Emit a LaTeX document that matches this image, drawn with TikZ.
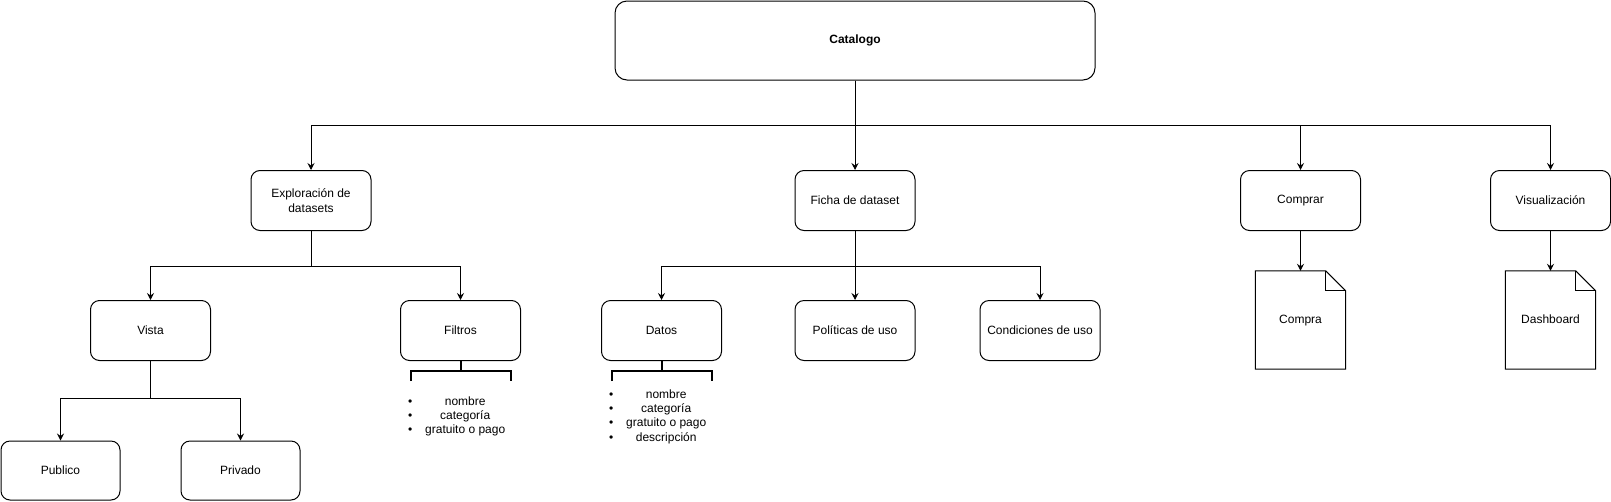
\documentclass[tikz,border=0pt]{standalone}
\usepackage{fontspec}
\setmainfont{Liberation Sans}
\usetikzlibrary{arrows.meta}
\tikzset{
  base/.style={font=\fontsize{12}{14.4}\selectfont},
  box/.style={base, draw, line width=1pt, rounded corners=9pt, minimum width=120pt, minimum height=60pt, align=center, inner sep=2pt},
  arr/.style={line width=1pt, -{Stealth[length=7pt,width=7pt,inset=2.5pt]}},
  docnode/.style={base, minimum width=90pt, minimum height=98pt, inner sep=0pt, text height=8.6pt, text depth=2.5pt},
  docline/.style={line width=1pt, line join=miter},
  brk/.style={line width=2pt},
  li/.style={base, anchor=base west, inner sep=0pt},
}
\newcommand{\litem}[1]{\hbox to 114pt{\rlap{\textbullet}\hfil #1\hfil}}
\begin{document}
\begin{tikzpicture}[x=1pt, y=-1pt]
\useasboundingbox (0,0) rectangle (1611,501);
\fill[white] (0,0) rectangle (1611,501);

% top
\node[box, rounded corners=12pt, minimum width=480pt, minimum height=79pt, font=\fontsize{12}{14.4}\selectfont\bfseries] (cat) at (855,40.5) {Catalogo};

% level 2
\node[box] (expl) at (311,200.5) {Exploración de\\datasets};
\node[box] (ficha) at (855,200.5) {Ficha de dataset};
\node[box] (comp) at (1300.5,200.5) {Comprar};
\node[box] (vis) at (1550.5,200.5) {Visualización};

% level 3
\node[box] (vista) at (150.5,330.5) {Vista};
\node[box] (filt) at (460.5,330.5) {Filtros};
\node[box] (datos) at (661.5,330.5) {Datos};
\node[box] (pol) at (855,330.5) {Políticas de uso};
\node[box] (cond) at (1040,330.5) {Condiciones de uso};

% documents
\node[docnode] (compra) at (1300.5,320) {Compra};
\node[docnode] (dash) at (1550.5,320) {Dashboard};
\foreach \d in {compra,dash}{
  \draw[docline] (\d.north west) -- ([xshift=-20pt]\d.north east) -- ([yshift=-20pt]\d.north east) -- (\d.south east) -- (\d.south west) -- cycle;
  \draw[docline] ([xshift=-20pt]\d.north east) -- ([xshift=-20pt,yshift=-20pt]\d.north east) -- ([yshift=-20pt]\d.north east);
}

% level 4
\node[box, minimum width=119pt, minimum height=59pt] (pub) at (60.5,470.5) {Publico};
\node[box, minimum width=119pt, minimum height=59pt] (priv) at (240.5,470.5) {Privado};

% connectors
\draw[arr] (cat) -- (ficha);
\draw[arr] (cat.south) -- ++(0,45) -| (expl.north);
\draw[arr] (cat.south) -- ++(0,45) -| (comp.north);
\draw[arr] (cat.south) -- ++(0,45) -| (vis.north);

\draw[arr] (expl.south) -- ++(0,35) -| (vista.north);
\draw[arr] (expl.south) -- ++(0,35) -| (filt.north);

\draw[arr] (ficha) -- (pol);
\draw[arr] (ficha.south) -- ++(0,35) -| (datos.north);
\draw[arr] (ficha.south) -- ++(0,35) -| (cond.north);

\draw[arr] (comp) -- (compra);
\draw[arr] (vis) -- (dash);

\draw[arr] (vista.south) -- ++(0,37) -| (pub.north);
\draw[arr] (vista.south) -- ++(0,37) -| (priv.north);

% brackets
\draw[brk] (filt.south) -- ++(0,10);
\draw[brk] ([xshift=-50pt,yshift=-20pt]filt.south) -- ([xshift=-50pt,yshift=-10pt]filt.south) -- ([xshift=50pt,yshift=-10pt]filt.south) -- ([xshift=50pt,yshift=-20pt]filt.south);
\draw[brk] (datos.south) -- ++(0,10);
\draw[brk] ([xshift=-50pt,yshift=-20pt]datos.south) -- ([xshift=-50pt,yshift=-10pt]datos.south) -- ([xshift=50pt,yshift=-10pt]datos.south) -- ([xshift=50pt,yshift=-20pt]datos.south);

% lists
\node[li] (f1) at (408,405) {\litem{nombre}};
\node[li] (f2) at (408,419.3) {\litem{categoría}};
\node[li] (f3) at (408,433.6) {\litem{gratuito o pago}};

\node[li] (d1) at (609,398.3) {\litem{nombre}};
\node[li] (d2) at (609,412.6) {\litem{categoría}};
\node[li] (d3) at (609,426.9) {\litem{gratuito o pago}};
\node[li] (d4) at (609,441.2) {\litem{descripción}};
\end{tikzpicture}
\end{document}
